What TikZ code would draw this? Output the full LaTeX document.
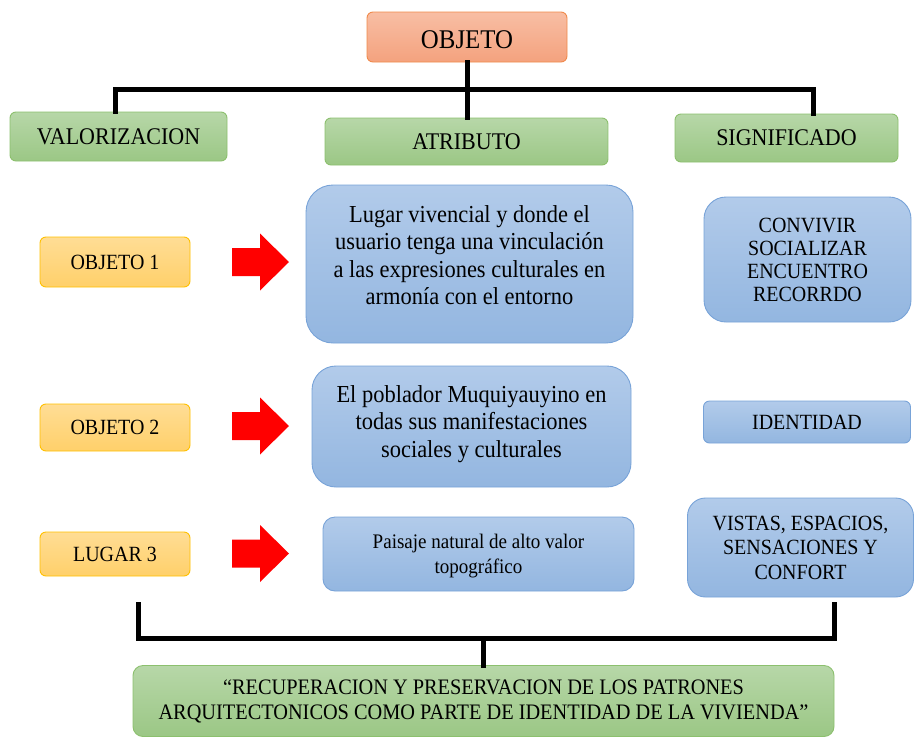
\documentclass[tikz,border=0pt]{standalone}
\usepackage{fontspec}
\setmainfont{Liberation Serif}[FakeStretch=0.92]
\definecolor{gtop}{HTML}{B7D7A8}
\definecolor{gbot}{HTML}{9BC785}
\definecolor{gdraw}{HTML}{8CC06E}
\definecolor{ytop}{HTML}{FFDD95}
\definecolor{ybot}{HTML}{FFD06A}
\definecolor{ydraw}{HTML}{FFC000}
\definecolor{btop}{HTML}{B2CBEA}
\definecolor{bbot}{HTML}{93B6E0}
\definecolor{bdraw}{HTML}{78A3D8}
\definecolor{otop}{HTML}{F8BEA4}
\definecolor{obot}{HTML}{F4A27E}
\definecolor{odraw}{HTML}{F08A4B}
\definecolor{arrred}{HTML}{FF0000}
\tikzset{
  box/.style={draw, line width=0.9pt, align=center, inner sep=0pt, text=black},
  greenbox/.style={box, draw=gdraw, top color=gtop, bottom color=gbot, rounded corners=6pt},
  yellowbox/.style={box, draw=ydraw, top color=ytop, bottom color=ybot, rounded corners=6pt},
  bluebox/.style={box, draw=bdraw, top color=btop, bottom color=bbot},
  orangebox/.style={box, draw=odraw, top color=otop, bottom color=obot, rounded corners=6pt},
  bar/.style={line width=5pt, black, line join=miter, line cap=rect},
  redarr/.pic={\fill[arrred] (-28.5,-14) -- (-0.5,-14) -- (-0.5,-28.5) -- (28.5,0) -- (-0.5,28.5) -- (-0.5,14) -- (-28.5,14) -- cycle;}
}
\begin{document}
\begin{tikzpicture}[x=1pt,y=-1pt]
\useasboundingbox (0,0) rectangle (914,737);
% header row
\node[orangebox, minimum width=200pt, minimum height=50pt, text height=23pt, text depth=0pt, font=\fontsize{27}{30}\selectfont] (objeto) at (467,37) {OBJETO};
\node[greenbox, minimum width=217pt, minimum height=49pt, font=\fontsize{23.9}{26}\selectfont] (valor) at (118.5,136.5) {VALORIZACION};
\node[greenbox, minimum width=283pt, minimum height=47pt, font=\fontsize{23.9}{26}\selectfont] (atrib) at (466.5,141.5) {ATRIBUTO};
\node[greenbox, minimum width=223pt, minimum height=48pt, font=\fontsize{23.9}{26}\selectfont] (sig) at (786.5,138) {SIGNIFICADO};
% left column
\node[yellowbox, minimum width=150pt, minimum height=50pt, font=\fontsize{21.7}{24}\selectfont] (obj1) at (115,262) {OBJETO 1};
\node[yellowbox, minimum width=150pt, minimum height=47pt, font=\fontsize{21.7}{24}\selectfont] (obj2) at (115,427.5) {OBJETO 2};
\node[yellowbox, minimum width=150pt, minimum height=44pt, font=\fontsize{21.7}{24}\selectfont] (lug3) at (115,554) {LUGAR 3};
% middle column
\node[bluebox, rounded corners=27pt, minimum width=327pt, minimum height=158pt, text depth=18pt, font=\fontsize{24.4}{27.5}\selectfont] (b1) at (469.5,264) {Lugar vivencial y donde el\\usuario tenga una vinculación\\a las expresiones culturales en\\armonía con el entorno};
\node[bluebox, rounded corners=24pt, minimum width=319pt, minimum height=121pt, text depth=10.5pt, font=\fontsize{24.4}{27.5}\selectfont] (b2) at (471.5,426.5) {El poblador Muquiyauyino en\\todas sus manifestaciones\\sociales y culturales};
\node[bluebox, rounded corners=12pt, minimum width=311pt, minimum height=74pt, text depth=0.5pt, font=\fontsize{20.7}{25}\selectfont] (b3) at (478.5,554) {Paisaje natural de alto valor\\topográfico};
% right column
\node[bluebox, rounded corners=22pt, minimum width=207pt, minimum height=125pt, font=\fontsize{21.7}{23}\selectfont] (conv) at (807.5,259.5) {CONVIVIR\\SOCIALIZAR\\ENCUENTRO\\RECORRDO};
\node[bluebox, rounded corners=6pt, minimum width=207pt, minimum height=42pt, font=\fontsize{21.7}{24}\selectfont] (iden) at (807,422) {IDENTIDAD};
\node[bluebox, rounded corners=18pt, minimum width=226pt, minimum height=99pt, font=\fontsize{21.7}{24.5}\selectfont] (vist) at (800.5,547.5) {VISTAS, ESPACIOS,\\SENSACIONES Y\\CONFORT};
% final
\node[greenbox, rounded corners=10pt, minimum width=701pt, minimum height=71pt, font=\fontsize{22.1}{25}\selectfont] (final) at (483.5,701) {“RECUPERACION Y PRESERVACION DE LOS PATRONES\\ARQUITECTONICOS COMO PARTE DE IDENTIDAD DE LA VIVIENDA”};
% red arrows
\pic at (260.5,262) {redarr};
\pic at (260.5,426) {redarr};
\pic at (260.5,553.5) {redarr};
% top bracket
\coordinate (jL) at (115,89);
\coordinate (jR) at (813,89);
\draw[bar] (objeto.south) -- (objeto.south |- atrib.north);
\draw[bar] (jL |- valor.north) -- (jL) -- (jR) -- (jR |- sig.north);
% bottom bracket
\coordinate (tL) at (138,604);
\coordinate (tR) at (834,604);
\coordinate (bL) at (138,638);
\coordinate (bR) at (834,638);
\draw[bar] (tL) -- (bL) -- (bR) -- (tR);
\draw[bar] (final.north) -- (final.north |- bL);
\end{tikzpicture}
\end{document}
